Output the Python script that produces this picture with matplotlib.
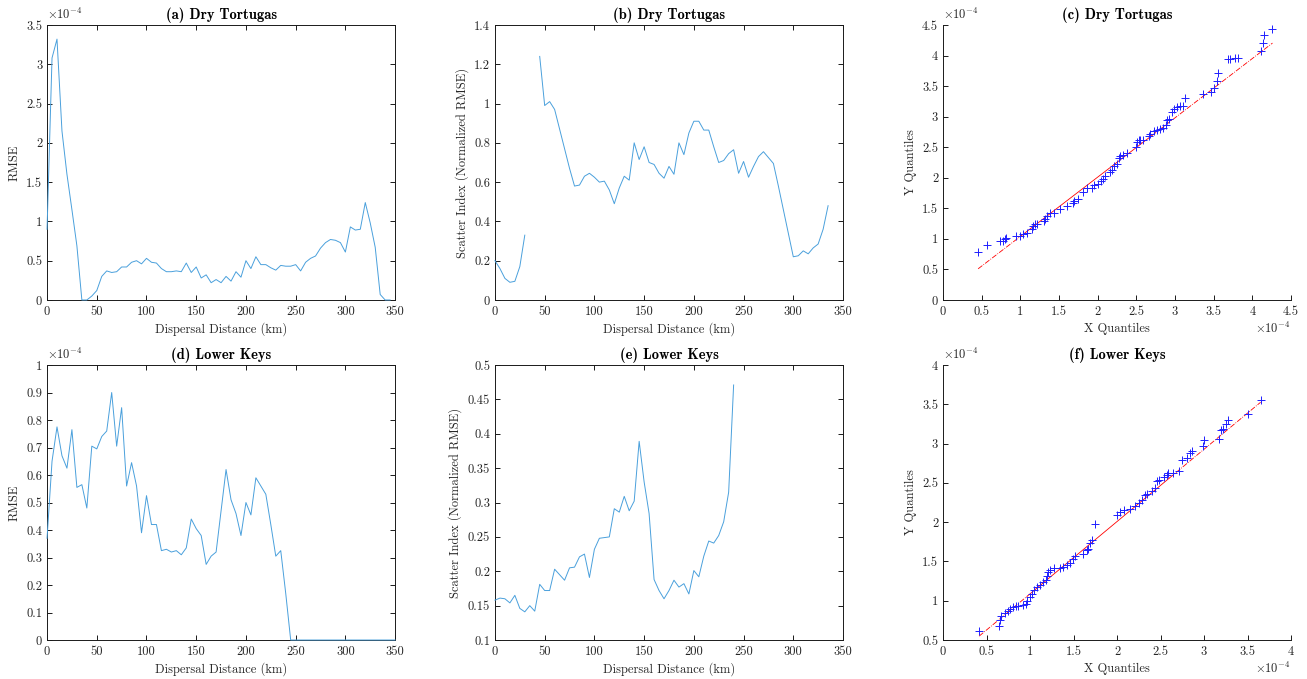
import numpy as np
import matplotlib
matplotlib.use('Agg')
import matplotlib.pyplot as plt
from matplotlib.ticker import FuncFormatter, MultipleLocator

plt.rcParams['font.family'] = 'serif'
plt.rcParams['font.serif'] = ['cmr10']
plt.rcParams['mathtext.fontset'] = 'cm'
plt.rcParams['axes.unicode_minus'] = False

# distance grid (km), 5 km steps
dist = np.arange(0, 355, 5)

# (a) Dry Tortugas RMSE, units of 1e-4
rmse_dt = [0.90, 3.08, 3.32, 2.15, 1.60, 1.15, 0.69, 0.0, 0.0, 0.05,
           0.12, 0.30, 0.37, 0.35, 0.36, 0.42, 0.42, 0.48, 0.50, 0.46,
           0.53, 0.48, 0.47, 0.40, 0.36, 0.36, 0.37, 0.36, 0.47, 0.35,
           0.42, 0.28, 0.32, 0.22, 0.26, 0.22, 0.30, 0.24, 0.36, 0.29,
           0.50, 0.40, 0.55, 0.45, 0.45, 0.41, 0.38, 0.44, 0.43, 0.43,
           0.45, 0.37, 0.48, 0.53, 0.56, 0.66, 0.73, 0.77, 0.76, 0.73,
           0.61, 0.93, 0.89, 0.90, 1.24, 0.98, 0.67, 0.07, 0.0, 0.0]

# (b) Dry Tortugas scatter index (gap at 35-40 km)
si_dt = [0.20, 0.16, 0.11, 0.09, 0.095, 0.17, 0.33, np.nan, np.nan, 1.24,
         0.99, 1.01, 0.97, 0.87, 0.77, 0.67, 0.58, 0.585, 0.63, 0.645,
         0.625, 0.60, 0.605, 0.56, 0.49, 0.57, 0.63, 0.61, 0.80, 0.715,
         0.78, 0.70, 0.69, 0.645, 0.62, 0.68, 0.64, 0.80, 0.74, 0.85,
         0.91, 0.91, 0.865, 0.865, 0.78, 0.70, 0.71, 0.745, 0.765, 0.645,
         0.705, 0.625, 0.68, 0.73, 0.755, 0.725, 0.695, 0.58, 0.46, 0.34,
         0.22, 0.225, 0.25, 0.235, 0.265, 0.285, 0.36, 0.48]

# (d) Lower Keys RMSE, units of 1e-4
rmse_lk = [0.37, 0.65, 0.775, 0.67, 0.625, 0.765, 0.555, 0.565, 0.48, 0.705,
           0.695, 0.74, 0.76, 0.90, 0.705, 0.845, 0.56, 0.645, 0.56, 0.39,
           0.525, 0.42, 0.42, 0.325, 0.33, 0.32, 0.325, 0.31, 0.335, 0.44,
           0.405, 0.38, 0.275, 0.305, 0.32, 0.47, 0.62, 0.51, 0.46, 0.38,
           0.50, 0.455, 0.59, 0.56, 0.53, 0.42, 0.305, 0.325, 0.17, 0.0,
           0.0, 0.0, 0.0, 0.0, 0.0, 0.0, 0.0, 0.0, 0.0, 0.0,
           0.0, 0.0, 0.0, 0.0, 0.0, 0.0, 0.0, 0.0, 0.0, 0.0, 0.0]

# (e) Lower Keys scatter index
si_lk = [0.158, 0.161, 0.16, 0.154, 0.165, 0.146, 0.141, 0.15, 0.142, 0.181,
         0.172, 0.172, 0.203, 0.195, 0.187, 0.205, 0.206, 0.221, 0.225, 0.191,
         0.232, 0.248, 0.249, 0.25, 0.291, 0.286, 0.309, 0.288, 0.302, 0.389,
         0.33, 0.284, 0.188, 0.172, 0.16, 0.172, 0.187, 0.177, 0.182, 0.167,
         0.201, 0.192, 0.222, 0.244, 0.241, 0.252, 0.272, 0.315, 0.471]

# (c) Dry Tortugas QQ, units of 1e-4
qx_dt = [0.454, 0.575, 0.735, 0.77, 0.80, 0.82, 0.95, 0.99, 1.03, 1.08,
         1.15, 1.17, 1.19, 1.21, 1.30, 1.32, 1.34, 1.38, 1.43, 1.51,
         1.60, 1.68, 1.69, 1.75, 1.81, 1.86, 1.92, 1.95, 2.01, 2.04,
         2.07, 2.10, 2.16, 2.18, 2.21, 2.25, 2.27, 2.29, 2.33, 2.38,
         2.49, 2.51, 2.53, 2.55, 2.59, 2.66, 2.68, 2.73, 2.77, 2.81,
         2.85, 2.88, 2.90, 2.92, 2.96, 2.99, 3.03, 3.07, 3.10, 3.13,
         3.36, 3.46, 3.51, 3.54, 3.56, 3.68, 3.71, 3.78, 3.81, 4.11,
         4.14, 4.15, 4.26]
qy_dt = [0.79, 0.90, 0.96, 0.96, 1.00, 1.01, 1.05, 1.05, 1.08, 1.10,
         1.16, 1.21, 1.24, 1.25, 1.30, 1.33, 1.38, 1.42, 1.43, 1.49,
         1.53, 1.58, 1.62, 1.65, 1.76, 1.83, 1.84, 1.88, 1.90, 1.94,
         1.98, 2.03, 2.09, 2.13, 2.19, 2.23, 2.33, 2.36, 2.37, 2.41,
         2.50, 2.59, 2.61, 2.61, 2.61, 2.69, 2.72, 2.76, 2.78, 2.80,
         2.82, 2.86, 2.94, 2.96, 3.07, 3.13, 3.15, 3.17, 3.18, 3.30,
         3.37, 3.40, 3.47, 3.58, 3.72, 3.94, 3.94, 3.96, 3.96, 4.07,
         4.20, 4.34, 4.44]
# quartile points of the reference line
qline_dt_x = [1.0, 2.7]
qline_dt_y = [1.04, 2.69]

# (f) Lower Keys QQ, units of 1e-4
qx_lk = [0.415, 0.64, 0.65, 0.665, 0.71, 0.75, 0.77, 0.80, 0.84, 0.865,
         0.92, 0.95, 0.97, 1.0, 1.02, 1.045, 1.075, 1.11, 1.15, 1.18,
         1.20, 1.21, 1.23, 1.27, 1.345, 1.38, 1.42, 1.46, 1.49, 1.52,
         1.61, 1.65, 1.67, 1.69, 1.71, 1.75, 2.0, 2.03, 2.075, 2.15,
         2.21, 2.25, 2.29, 2.32, 2.35, 2.40, 2.44, 2.46, 2.48, 2.54,
         2.57, 2.59, 2.64, 2.71, 2.75, 2.80, 2.84, 2.86, 2.99, 3.00,
         3.17, 3.20, 3.22, 3.25, 3.27, 3.50, 3.65]
qy_lk = [0.61, 0.68, 0.76, 0.80, 0.84, 0.87, 0.89, 0.92, 0.93, 0.93,
         0.94, 0.96, 1.0, 1.05, 1.09, 1.14, 1.18, 1.20, 1.24, 1.27,
         1.31, 1.37, 1.39, 1.42, 1.42, 1.43, 1.45, 1.48, 1.53, 1.57,
         1.60, 1.64, 1.66, 1.73, 1.77, 1.98, 2.09, 2.13, 2.15, 2.17,
         2.20, 2.24, 2.28, 2.34, 2.36, 2.40, 2.44, 2.52, 2.54, 2.58,
         2.60, 2.62, 2.63, 2.65, 2.79, 2.82, 2.88, 2.90, 2.97, 3.05,
         3.06, 3.17, 3.19, 3.25, 3.30, 3.38, 3.56]
qline_lk_x = [0.97, 2.6]
qline_lk_y = [1.06, 2.56]

BLUE = '#4aa0dc'
TXT = '#262626'
FS = 9

fig = plt.figure(figsize=(13.07, 6.79), dpi=100)
lefts = [0.0360, 0.3787, 0.7215]
bottoms = [0.5582, 0.0574]
W, H = 0.2663, 0.4050

fmt = FuncFormatter(lambda v, p: '%g' % round(v, 6))


def style(ax, box=True):
    for s in ax.spines.values():
        s.set_linewidth(0.7)
        s.set_color('#1a1a1a')
    if not box:
        ax.spines['top'].set_visible(False)
        ax.spines['right'].set_visible(False)
    ax.tick_params(direction='in', length=3.5, width=0.7, labelsize=FS,
                   color='#1a1a1a', labelcolor=TXT, top=box, right=box)
    ax.tick_params(axis='x', pad=4.5)
    ax.tick_params(axis='y', pad=3.5)
    ax.xaxis.set_major_formatter(fmt)
    ax.yaxis.set_major_formatter(fmt)


def exp_y(ax):
    ax.text(0.0, 1.012, r'$\times 10^{-4}$', transform=ax.transAxes,
            fontsize=FS, color=TXT, ha='left', va='bottom')


def exp_x(ax):
    ax.text(1.0, -0.102, r'$\times 10^{-4}$', transform=ax.transAxes,
            fontsize=FS, color=TXT, ha='right', va='center')


def title(ax, t):
    ax.set_title(t, fontfamily='cmb10', fontsize=10.5, pad=4)


def line_panel(ax, vals, ylim, ystep, ylabel, t, sci=False):
    x = dist[:len(vals)]
    ax.plot(x, vals, color=BLUE, lw=0.7, clip_on=False, zorder=3)
    ax.set_xlim(0, 350)
    ax.set_ylim(*ylim)
    ax.xaxis.set_major_locator(MultipleLocator(50))
    ax.yaxis.set_major_locator(MultipleLocator(ystep))
    style(ax)
    ax.set_xlabel('Dispersal Distance (km)', fontsize=FS, color=TXT, labelpad=3)
    ax.set_ylabel(ylabel, fontsize=FS, color=TXT, labelpad=4)
    title(ax, t)
    if sci:
        exp_y(ax)


def qq_panel(ax, qx, qy, lx, ly, lim, t):
    qx = np.asarray(qx)
    slope = (ly[1] - ly[0]) / (lx[1] - lx[0])
    xs = np.array([qx.min(), lx[0], lx[1], qx.max()])
    ys = ly[0] + slope * (xs - lx[0])
    ax.plot(xs[:2], ys[:2], color='r', lw=0.6, ls='-.', zorder=2)
    ax.plot(xs[1:3], ys[1:3], color='r', lw=0.6, ls='-', zorder=2)
    ax.plot(xs[2:], ys[2:], color='r', lw=0.6, ls='-.', zorder=2)
    ax.plot(qx, qy, ls='none', marker='+', color='#1f1fff', ms=6, mew=0.7,
            zorder=3)
    ax.set_xlim(lim[0], lim[1])
    ax.set_ylim(lim[2], lim[3])
    ax.xaxis.set_major_locator(MultipleLocator(0.5))
    ax.yaxis.set_major_locator(MultipleLocator(0.5))
    style(ax, box=False)
    ax.set_xlabel('X Quantiles', fontsize=FS, color=TXT, labelpad=3)
    ax.set_ylabel('Y Quantiles', fontsize=FS, color=TXT, labelpad=4)
    title(ax, t)
    exp_y(ax)
    exp_x(ax)


ax = fig.add_axes([lefts[0], bottoms[0], W, H])
line_panel(ax, rmse_dt, (0, 3.5), 0.5, 'RMSE', '(a) Dry Tortugas', sci=True)

ax = fig.add_axes([lefts[1], bottoms[0], W, H])
line_panel(ax, si_dt, (0, 1.4), 0.2, 'Scatter Index (Normalized RMSE)',
           '(b) Dry Tortugas')

ax = fig.add_axes([lefts[2], bottoms[0], W, H])
qq_panel(ax, qx_dt, qy_dt, qline_dt_x, qline_dt_y, (0, 4.5, 0, 4.5),
         '(c) Dry Tortugas')

ax = fig.add_axes([lefts[0], bottoms[1], W, H])
line_panel(ax, rmse_lk, (0, 1.0), 0.1, 'RMSE', '(d) Lower Keys', sci=True)

ax = fig.add_axes([lefts[1], bottoms[1], W, H])
line_panel(ax, si_lk, (0.1, 0.5), 0.05, 'Scatter Index (Normalized RMSE)',
           '(e) Lower Keys')

ax = fig.add_axes([lefts[2], bottoms[1], W, H])
qq_panel(ax, qx_lk, qy_lk, qline_lk_x, qline_lk_y, (0, 4, 0.5, 4),
         '(f) Lower Keys')

fig.savefig('out.png', dpi=100, facecolor='white')
